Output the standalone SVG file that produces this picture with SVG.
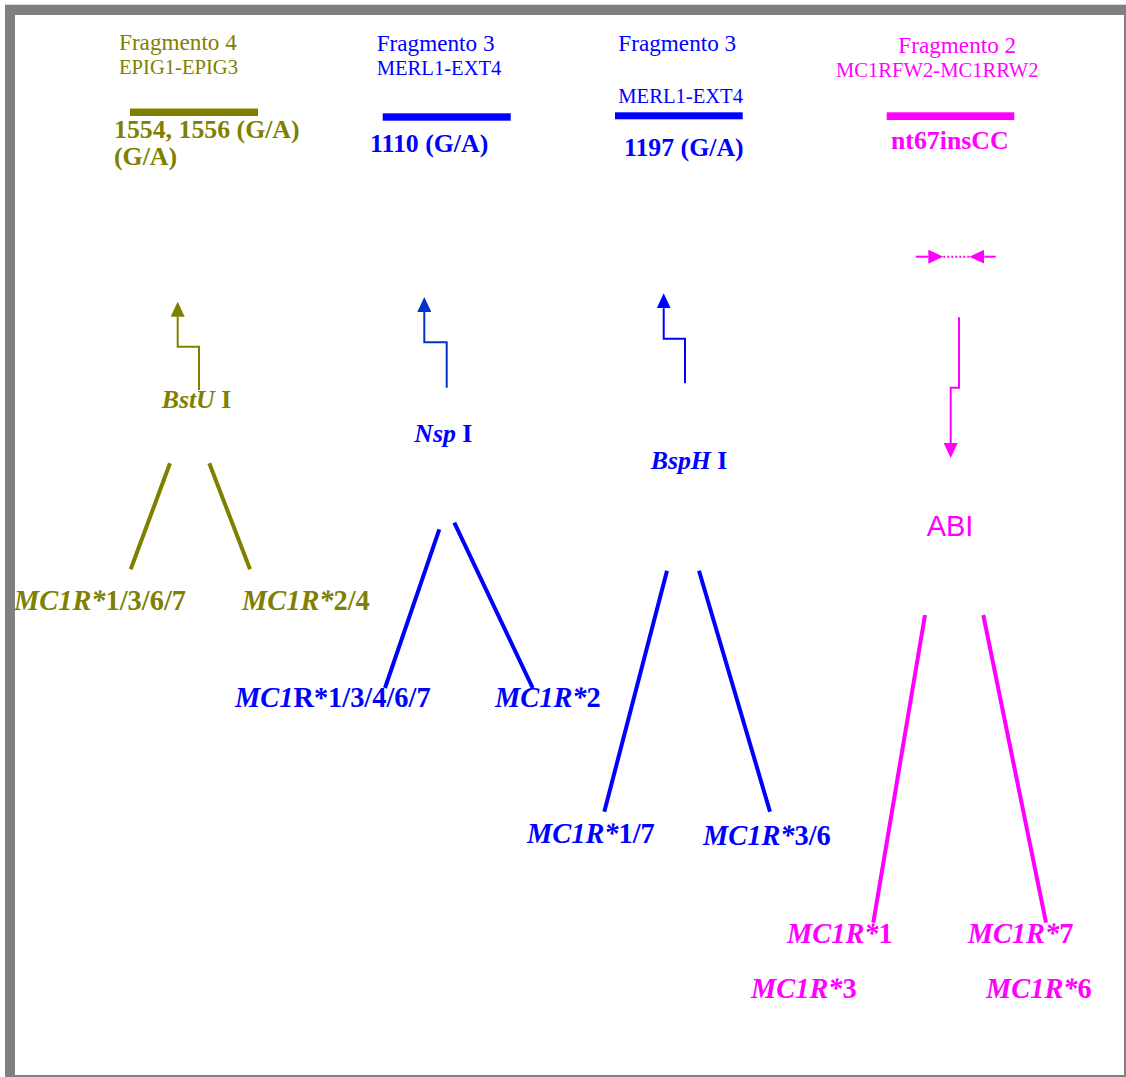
<svg xmlns="http://www.w3.org/2000/svg" width="1126" height="1077" viewBox="0 0 1126 1077">
  <style>
    .t { font-family: "Liberation Serif", "Times New Roman", serif; }
    .frag { font-size: 23.2px; }
    .prim { font-size: 20.6px; }
    .snp { font-size: 25.8px; font-weight: bold; }
    .enz { font-size: 25.8px; font-weight: bold; }
    .allele { font-size: 28.4px; font-weight: bold; }
    .it { font-style: italic; }
    .ol { fill: #808000; }
    .bl { fill: #0000ff; }
    .mg { fill: #ff00ff; }
    .step { fill: none; stroke-width: 2; }
    .branch { fill: none; stroke-width: 4; stroke-linecap: butt; }
  </style>
  <defs>
    <marker id="headOlive" viewBox="0 0 15 14" refX="0" refY="7" markerWidth="15" markerHeight="14" markerUnits="userSpaceOnUse" orient="auto">
      <path d="M0,0 L15,7 L0,14 z" fill="#808000"/>
    </marker>
    <marker id="headNsp" viewBox="0 0 15 14" refX="0" refY="7" markerWidth="15" markerHeight="14" markerUnits="userSpaceOnUse" orient="auto">
      <path d="M0,0 L15,7 L0,14 z" fill="#0033cc"/>
    </marker>
    <marker id="headBlue" viewBox="0 0 15 14" refX="0" refY="7" markerWidth="15" markerHeight="14" markerUnits="userSpaceOnUse" orient="auto">
      <path d="M0,0 L15,7 L0,14 z" fill="#0000ff"/>
    </marker>
    <marker id="headMag" viewBox="0 0 15 14" refX="0" refY="7" markerWidth="15" markerHeight="14" markerUnits="userSpaceOnUse" orient="auto">
      <path d="M0,0 L15,7 L0,14 z" fill="#ff00ff"/>
    </marker>
  </defs>

  <!-- page frame -->
  <rect x="0" y="0" width="1126" height="1077" fill="#ffffff"/>
  <rect x="5" y="4" width="1121" height="1" fill="#d8d8d8"/>
  <rect x="5" y="5" width="1121" height="1072" fill="#808080"/>
  <rect x="15" y="15" width="1109" height="1060" fill="#ffffff"/>

  <!-- fragment 4 (olive) -->
  <g id="frag4">
    <text class="t frag ol" x="119" y="50">Fragmento 4</text>
    <text class="t prim ol" x="119" y="74">EPIG1-EPIG3</text>
    <rect x="130" y="108.5" width="128" height="7.5" fill="#808000"/>
    <text class="t snp ol" x="114" y="138">1554, 1556 (G/A)</text>
    <text class="t snp ol" x="114" y="165">(G/A)</text>
  </g>

  <!-- fragment 3, first digest (blue) -->
  <g id="frag3a">
    <text class="t frag bl" x="376.7" y="50.7">Fragmento 3</text>
    <text class="t prim bl" x="376.7" y="75">MERL1-EXT4</text>
    <rect x="382.7" y="113.3" width="128" height="7.4" fill="#0000ff"/>
    <text class="t snp bl" x="370" y="151.7">1110 (G/A)</text>
  </g>

  <!-- fragment 3, second digest (blue) -->
  <g id="frag3b">
    <text class="t frag bl" x="618.3" y="50.7">Fragmento 3</text>
    <text class="t prim bl" x="618.3" y="102.7">MERL1-EXT4</text>
    <rect x="615" y="112.3" width="127.7" height="7" fill="#0000ff"/>
    <text class="t snp bl" x="624" y="155.7">1197 (G/A)</text>
  </g>

  <!-- fragment 2 (magenta) -->
  <g id="frag2">
    <text class="t frag mg" x="898.3" y="52.7">Fragmento 2</text>
    <text class="t prim mg" x="836" y="77.3" font-size="19.7px">MC1RFW2-MC1RRW2</text>
    <rect x="886.7" y="112.3" width="127.6" height="7.7" fill="#ff00ff"/>
    <text class="t snp mg" x="891" y="149.3">nt67insCC</text>
  </g>

  <!-- restriction enzymes / method -->
  <g id="bstu">
    <text class="t enz ol" x="161.7" y="407.7"><tspan class="it">BstU</tspan> I</text>
  </g>
  <g id="nsp">
    <text class="t enz bl" x="414.3" y="441.7"><tspan class="it">Nsp</tspan> I</text>
  </g>
  <g id="bsph">
    <text class="t enz bl" x="650.7" y="469"><tspan class="it">BspH</tspan> I</text>
  </g>
  <g id="abi">
    <text x="926.7" y="535.7" font-family="'Liberation Sans', Arial, sans-serif" font-size="29px" fill="#ff00ff">ABI</text>
  </g>

  <!-- alleles -->
  <g id="olive-a1">
    <text class="t allele ol" x="14" y="610"><tspan class="it">MC1R*</tspan>1/3/6/7</text>
  </g>
  <g id="olive-a2">
    <text class="t allele ol" x="242" y="610"><tspan class="it">MC1R*</tspan>2/4</text>
  </g>
  <g id="nsp-a1">
    <text class="t allele bl" x="235" y="707"><tspan class="it">MC1</tspan>R*1/3/4/6/7</text>
  </g>
  <g id="nsp-a2">
    <text class="t allele bl" x="495" y="707"><tspan class="it">MC1R*</tspan>2</text>
  </g>
  <g id="bsph-a1">
    <text class="t allele bl" x="527" y="843.3"><tspan class="it">MC1R*</tspan>1/7</text>
  </g>
  <g id="bsph-a2">
    <text class="t allele bl" x="703" y="845"><tspan class="it">MC1R*</tspan>3/6</text>
  </g>
  <g id="abi-a1">
    <text class="t allele mg" x="787" y="942.7"><tspan class="it">MC1R*</tspan>1</text>
  </g>
  <g id="abi-a7">
    <text class="t allele mg" x="967.7" y="942.7"><tspan class="it">MC1R*</tspan>7</text>
  </g>
  <g id="abi-a3">
    <text class="t allele mg" x="751" y="997.7"><tspan class="it">MC1R*</tspan>3</text>
  </g>
  <g id="abi-a6">
    <text class="t allele mg" x="986" y="997.7"><tspan class="it">MC1R*</tspan>6</text>
  </g>

  <!-- connectors -->
  <g id="connectors">
    <!-- stepped arrows -->
    <path class="step" stroke="#808000" d="M199,390 V346.7 H177.7 V316.7" marker-end="url(#headOlive)"/>
    <path class="step" stroke="#0033cc" d="M446.7,387.7 V342.3 H424.3 V312" marker-end="url(#headNsp)"/>
    <path class="step" stroke="#0000ff" d="M685,383.3 V338.7 H663.7 V308.3" marker-end="url(#headBlue)"/>
    <path class="step" stroke="#ff00ff" d="M959,317.3 V387.7 H950.7 V443" marker-end="url(#headMag)"/>
    <!-- insertion marker -->
    <path class="step" stroke="#ff00ff" d="M915.7,256.7 H928.3" marker-end="url(#headMag)"/>
    <path class="step" stroke="#ff00ff" d="M995.7,256.7 H984.3" marker-end="url(#headMag)"/>
    <path stroke="#ff00ff" stroke-width="2" stroke-dasharray="2,2" d="M943.3,256.7 H969.3"/>
    <!-- branches -->
    <path class="branch" stroke="#808000" d="M170,463.3 L130.7,569.3 M209.3,463.3 L250,569.3"/>
    <path class="branch" stroke="#0000ff" d="M439.3,529.3 L385,688 M454.3,522.7 L532.7,688"/>
    <path class="branch" stroke="#0000ff" d="M667,570.7 L604.3,811.7 M699,570.7 L770,811.7"/>
    <path class="branch" stroke="#ff00ff" d="M925,615 L873.3,922.7 M983.3,615 L1046,922.7"/>
  </g>
</svg>
